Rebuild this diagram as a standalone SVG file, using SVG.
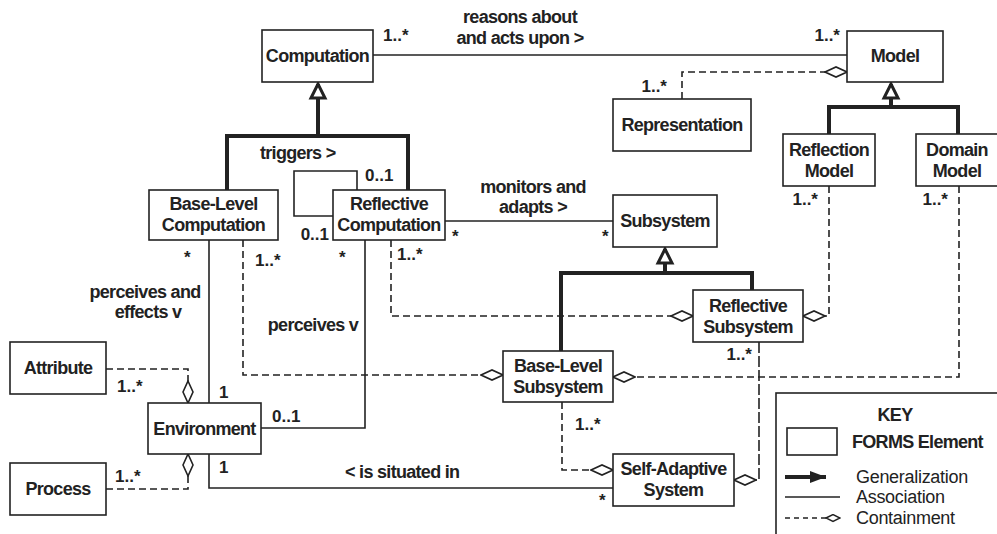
<svg xmlns="http://www.w3.org/2000/svg" width="997" height="534" viewBox="0 0 997 534">
<defs>
<style>
.box{fill:#fff;stroke:#222;stroke-width:1.6}
.t{font-family:"Liberation Sans",Arial,sans-serif;font-size:18px;font-weight:bold;letter-spacing:-0.7px;fill:#222}
.c{text-anchor:middle}
.e{text-anchor:end}
.m{font-family:"Liberation Sans",Arial,sans-serif;font-size:17px;font-weight:bold;fill:#222}
.k{font-family:"Liberation Sans",Arial,sans-serif;font-size:18px;fill:#222;letter-spacing:-0.3px}
.assoc{fill:none;stroke:#222;stroke-width:1.6}
.gen{fill:none;stroke:#222;stroke-width:4}
.cont{fill:none;stroke:#222;stroke-width:1.6;stroke-dasharray:7 4;marker-end:url(#dia)}
.contl{fill:none;stroke:#222;stroke-width:1.6;stroke-dasharray:11 3;marker-end:url(#dia)}
</style>
<marker id="dia" markerUnits="userSpaceOnUse" viewBox="-1 -1 24 12" refX="22" refY="5" markerWidth="24" markerHeight="12" orient="auto">
<path d="M0,5 L11,0 L22,5 L11,10 Z" fill="#fff" stroke="#222" stroke-width="1.6" stroke-dasharray="none"/>
</marker>
<marker id="tri" markerUnits="userSpaceOnUse" viewBox="-3 -3 20 20" refX="14" refY="7" markerWidth="20" markerHeight="20" orient="auto">
<path d="M0,0 L14,7 L0,14 Z" fill="#fff" stroke="#222" stroke-width="3" stroke-linejoin="miter"/>
</marker>
<marker id="arr" markerUnits="userSpaceOnUse" viewBox="0 0 16 12" refX="16" refY="6" markerWidth="16" markerHeight="12" orient="auto">
<path d="M0,0 L16,6 L0,12 Z" fill="#222"/>
</marker>
<marker id="sdia" markerUnits="userSpaceOnUse" viewBox="-1 -1 16 9" refX="14" refY="3.5" markerWidth="16" markerHeight="9" orient="auto">
<path d="M0,3.5 L7,0 L14,3.5 L7,7 Z" fill="#fff" stroke="#222" stroke-width="1.4" stroke-dasharray="none"/>
</marker>
</defs>
<rect width="997" height="534" fill="#fff"/>

<g id="connectors">
<path class="assoc" d="M373,55 H847"/>
<path class="cont" d="M682,99 V72 H847"/>
<path class="gen" d="M227,190 V136 H408 V190"/>
<path class="gen" d="M318,136 V84" marker-end="url(#tri)"/>
<path class="gen" d="M829,134 V107 H958 V134"/>
<path class="gen" d="M891,107 V84" marker-end="url(#tri)"/>
<path class="assoc" d="M357,190 V171 H294 V216 H333"/>
<path class="assoc" d="M445,221 H613"/>
<path class="gen" d="M561,351 V273 H752 V290"/>
<path class="gen" d="M665,273 V249" marker-end="url(#tri)"/>
<path class="cont" d="M829,186 V316 H803"/>
<path class="cont" d="M959,186 V377 H613"/>
<path class="cont" d="M391,240 V316 H693"/>
<path class="cont" d="M243,240 V375 H503"/>
<path class="assoc" d="M209,240 V403"/>
<path class="assoc" d="M365,240 V428 H261"/>
<path class="cont" d="M106,369 H188 V403"/>
<path class="cont" d="M106,489 H188 V454"/>
<path class="assoc" d="M209,454 V488 H613"/>
<path class="cont" d="M562,402 V470 H613"/>
<path class="contl" d="M759,342 V480 H734"/>

<text class="m" x="383" y="41">1..*</text>
<text class="t c" x="520" y="23">reasons about</text>
<text class="t c" x="520" y="44">and acts upon &gt;</text>
<text class="m e" x="840" y="41">1..*</text>
<text class="m e" x="667" y="92">1..*</text>
<text class="t" x="260" y="159">triggers &gt;</text>
<text class="m" x="365" y="181">0..1</text>
<text class="m e" x="329" y="240">0..1</text>
<text class="t c" x="533" y="193">monitors and</text>
<text class="t c" x="533" y="213">adapts &gt;</text>
<text class="m" x="452" y="242">*</text>
<text class="m" x="602" y="242">*</text>
<text class="m e" x="818" y="205">1..*</text>
<text class="m e" x="948" y="205">1..*</text>
<text class="m" x="397" y="260">1..*</text>
<text class="m" x="255" y="266">1..*</text>
<text class="m" x="184" y="263">*</text>
<text class="m" x="339" y="263">*</text>
<text class="t c" x="145" y="298">perceives and</text>
<text class="t c" x="148" y="318">effects v</text>
<text class="t c" x="313" y="331">perceives v</text>
<text class="m" x="219" y="398">1</text>
<text class="m" x="272" y="422">0..1</text>
<text class="m" x="117" y="392">1..*</text>
<text class="m" x="115" y="482">1..*</text>
<text class="m" x="219" y="473">1</text>
<text class="t" x="345" y="478">&lt; is situated in</text>
<text class="m" x="599" y="506">*</text>
<text class="m" x="575" y="430">1..*</text>
<text class="m e" x="752" y="360">1..*</text>
</g>

<g id="computation"><rect class="box" x="262" y="30" width="111" height="52"/><text class="t c" x="317.5" y="62">Computation</text></g>
<g id="model"><rect class="box" x="847" y="31" width="96" height="51"/><text class="t c" x="895" y="62">Model</text></g>
<g id="representation"><rect class="box" x="613" y="99" width="138" height="52"/><text class="t c" x="682" y="131">Representation</text></g>
<g id="reflection-model"><rect class="box" x="783" y="134" width="92" height="52"/><text class="t c" x="829" y="156">Reflection</text><text class="t c" x="829" y="177">Model</text></g>
<g id="domain-model"><rect class="box" x="916" y="134" width="90" height="52"/><text class="t c" x="957" y="156">Domain</text><text class="t c" x="957" y="177">Model</text></g>
<g id="base-level-computation"><rect class="box" x="149" y="190" width="129" height="50"/><text class="t c" x="213.5" y="210">Base-Level</text><text class="t c" x="213.5" y="231">Computation</text></g>
<g id="reflective-computation"><rect class="box" x="333" y="190" width="112" height="50"/><text class="t c" x="389" y="210">Reflective</text><text class="t c" x="389" y="231">Computation</text></g>
<g id="subsystem"><rect class="box" x="613" y="195" width="104" height="52"/><text class="t c" x="665" y="227">Subsystem</text></g>
<g id="reflective-subsystem"><rect class="box" x="693" y="290" width="110" height="52"/><text class="t c" x="748" y="312">Reflective</text><text class="t c" x="748" y="333">Subsystem</text></g>
<g id="base-level-subsystem"><rect class="box" x="503" y="351" width="110" height="51"/><text class="t c" x="558" y="372">Base-Level</text><text class="t c" x="558" y="393">Subsystem</text></g>
<g id="self-adaptive-system"><rect class="box" x="613" y="454" width="121" height="52"/><text class="t c" x="673.5" y="475">Self-Adaptive</text><text class="t c" x="673.5" y="496">System</text></g>
<g id="environment"><rect class="box" x="148" y="403" width="113" height="51"/><text class="t c" x="204.5" y="435">Environment</text></g>
<g id="attribute"><rect class="box" x="10" y="342" width="96" height="52"/><text class="t c" x="58" y="374">Attribute</text></g>
<g id="process"><rect class="box" x="10" y="463" width="96" height="52"/><text class="t c" x="58" y="495">Process</text></g>

<g id="key">
<rect class="box" x="776" y="393" width="240" height="160"/>
<text class="t c" x="895" y="421">KEY</text>
<rect class="box" x="787" y="428" width="50" height="27"/>
<text class="t" x="852" y="448">FORMS Element</text>
<path d="M785,477 H826" stroke="#222" stroke-width="4" fill="none" marker-end="url(#arr)"/>
<text class="k" x="856" y="483">Generalization</text>
<path d="M785,497 H840" stroke="#222" stroke-width="1.6" fill="none"/>
<text class="k" x="856" y="503">Association</text>
<path d="M785,518 H840" stroke="#222" stroke-width="1.4" stroke-dasharray="5 4" fill="none" marker-end="url(#sdia)"/>
<text class="k" x="856" y="524">Containment</text>
</g>
</svg>
